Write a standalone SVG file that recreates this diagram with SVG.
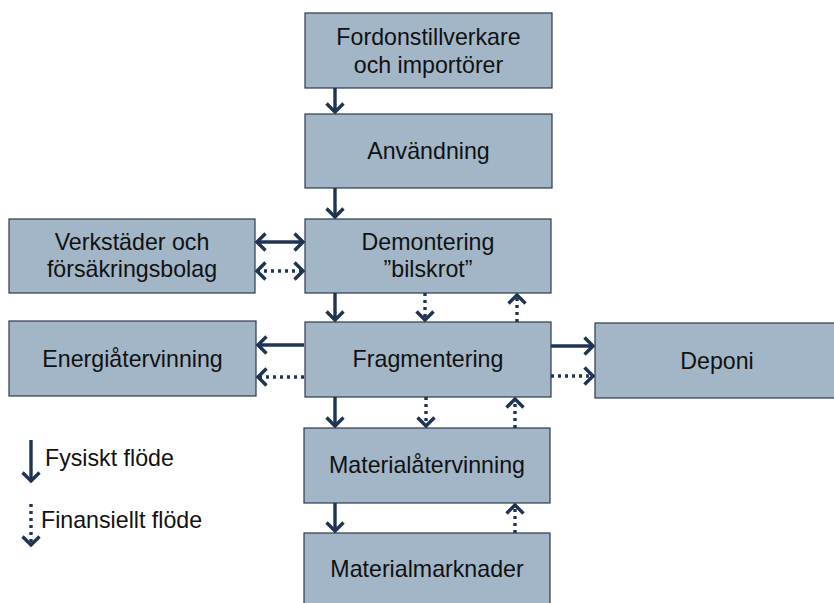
<svg xmlns="http://www.w3.org/2000/svg" width="834" height="603" viewBox="0 0 834 603">
  <style>
    .box { fill: #a2b6c8; stroke: #2b3a4e; stroke-width: 1.2; }
    .lbl { font-family: "Liberation Sans", Arial, sans-serif; font-size: 23.2px; fill: #111; text-anchor: middle; }
    .leg { font-family: "Liberation Sans", Arial, sans-serif; font-size: 23.2px; fill: #111; }
    .phys { stroke: #1f3453; stroke-width: 3.4; fill: none; marker-end: url(#head); }
    .fin { stroke: #1f3453; stroke-width: 3.4; fill: none; stroke-dasharray: 3 4; marker-end: url(#head); }
    .both { marker-start: url(#head); }
  </style>
  <defs>
    <marker id="head" viewBox="0 0 12 20" markerWidth="12" markerHeight="20" refX="10" refY="10" markerUnits="userSpaceOnUse" orient="auto-start-reverse">
      <path d="M1.5,1.5 L10,10 L1.5,18.5" fill="none" stroke="#1f3453" stroke-width="3.4"/>
    </marker>
  </defs>

  <rect width="834" height="603" fill="#ffffff"/>

  <g id="tillverkare">
    <rect class="box" x="305" y="13" width="247" height="75"/>
    <text class="lbl" x="428.5" y="45">Fordonstillverkare</text>
    <text class="lbl" x="428.5" y="72.5">och importörer</text>
  </g>
  <g id="anvandning">
    <rect class="box" x="305" y="114" width="247" height="74"/>
    <text class="lbl" x="428.5" y="159">Användning</text>
  </g>
  <g id="demontering">
    <rect class="box" x="305" y="219" width="246" height="74"/>
    <text class="lbl" x="428" y="250">Demontering</text>
    <text class="lbl" x="428" y="277">”bilskrot”</text>
  </g>
  <g id="verkstader">
    <rect class="box" x="9" y="219" width="246" height="74"/>
    <text class="lbl" x="132" y="250">Verkstäder och</text>
    <text class="lbl" x="132" y="277">försäkringsbolag</text>
  </g>
  <g id="fragmentering">
    <rect class="box" x="305" y="322" width="246" height="75"/>
    <text class="lbl" x="428" y="367">Fragmentering</text>
  </g>
  <g id="energi">
    <rect class="box" x="9" y="321" width="247" height="75"/>
    <text class="lbl" x="132.5" y="367">Energiåtervinning</text>
  </g>
  <g id="deponi">
    <rect class="box" x="595" y="323" width="240" height="75"/>
    <text class="lbl" x="717" y="369">Deponi</text>
  </g>
  <g id="materialatervinning">
    <rect class="box" x="304" y="428" width="246" height="75"/>
    <text class="lbl" x="427" y="473">Materialåtervinning</text>
  </g>
  <g id="materialmarknader">
    <rect class="box" x="304" y="533" width="246" height="76"/>
    <text class="lbl" x="427" y="577">Materialmarknader</text>
  </g>

  <g id="connectors">
    <line class="phys" x1="335" y1="88" x2="335" y2="112"/>
    <line class="phys" x1="335" y1="188" x2="335" y2="217"/>
    <line class="phys both" x1="257" y1="242" x2="303" y2="242"/>
    <line class="fin both" x1="257" y1="271" x2="303" y2="271"/>
    <line class="phys" x1="335" y1="293" x2="335" y2="320"/>
    <line class="fin" x1="425" y1="293" x2="425" y2="320"/>
    <line class="fin" x1="517" y1="322" x2="517" y2="295"/>
    <line class="phys" x1="304" y1="345" x2="258" y2="345"/>
    <line class="fin" x1="304" y1="377" x2="258" y2="377"/>
    <line class="phys" x1="551" y1="346" x2="593" y2="346"/>
    <line class="fin" x1="551" y1="376" x2="593" y2="376"/>
    <line class="phys" x1="335" y1="397" x2="335" y2="426"/>
    <line class="fin" x1="426" y1="397" x2="426" y2="426"/>
    <line class="fin" x1="515" y1="428" x2="515" y2="399"/>
    <line class="phys" x1="335" y1="503" x2="335" y2="531"/>
    <line class="fin" x1="515" y1="533" x2="515" y2="505"/>
  </g>

  <g id="legend">
    <line class="phys" x1="31" y1="440" x2="31" y2="481"/>
    <text class="leg" x="45" y="466">Fysiskt flöde</text>
    <line class="fin" x1="31" y1="504" x2="31" y2="545"/>
    <text class="leg" x="41" y="528">Finansiellt flöde</text>
  </g>
</svg>
